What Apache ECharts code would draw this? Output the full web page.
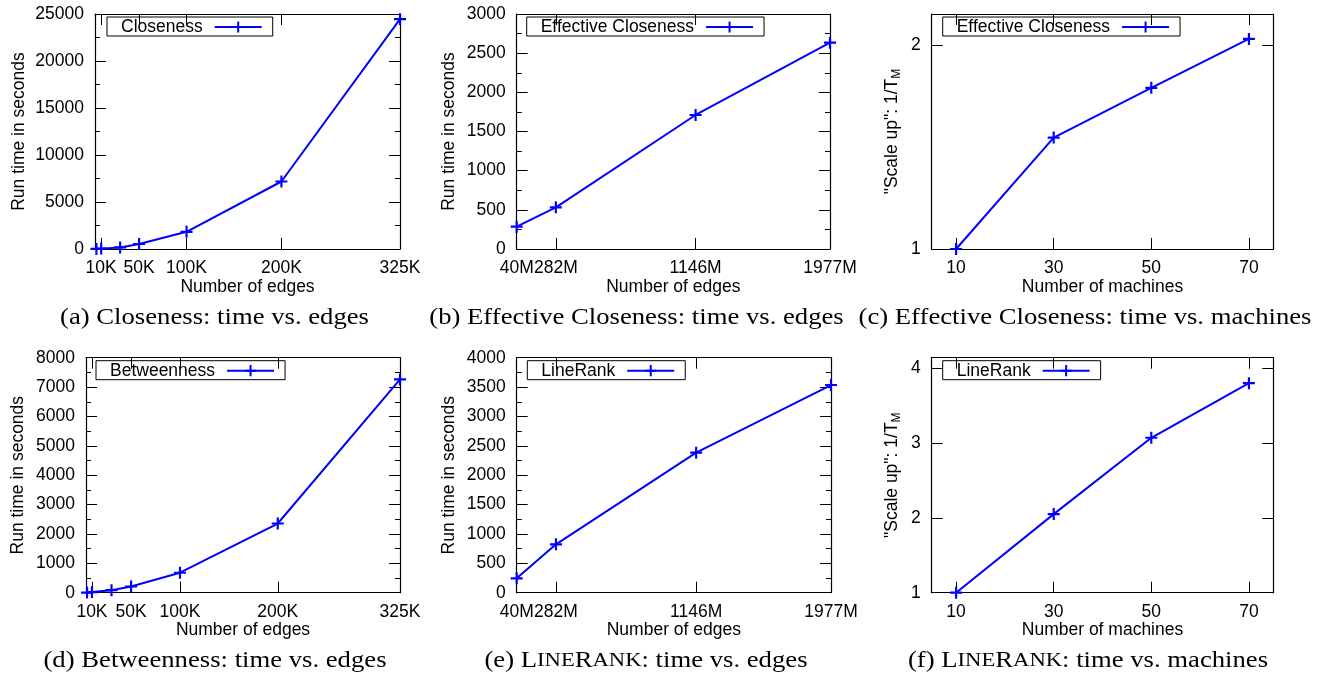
<!DOCTYPE html>
<html>
<head>
<meta charset="utf-8">
<title>Closeness, Betweenness and LineRank scalability</title>
<script src="https://cdn.jsdelivr.net/npm/echarts@6/dist/echarts.min.js"></script>
<style>
  html, body { margin: 0; padding: 0; background: #fff; }
  #chart { width: 1330px; height: 680px; }
</style>
</head>
<body>
<div id="chart"></div>
<script>
  // x values
  const edgesK = [5000, 10000, 30000, 50000, 100000, 200000, 325000]
  const edgesM = [40, 282, 1146, 1977]
  const machines = [10, 30, 50, 70]

  // run time in seconds / scale up
  const closenessTime = [10, 40, 170, 530, 1830, 7180, 24450]
  const betweennessTime = [5, 20, 85, 210, 680, 2355, 7260]
  const effClosenessTime = [285, 532, 1711, 2634]
  const lineRankTime = [244, 823, 2383, 3535]
  const effClosenessScaleUp = [1.0, 1.546, 1.79, 2.03]
  const lineRankScaleUp = [1.0, 2.05, 3.07, 3.80]

  // tick labels
  const edgesKTicks = [10000, 50000, 100000, 200000, 325000]
  const edgesKLabels = ['10K', '50K', '100K', '200K', '325K']
  const edgesMTicks = [40, 282, 1146, 1977]
  const edgesMLabels = ['40M', '282M', '1146M', '1977M']
  const machineTicks = [10, 30, 50, 70]
  const machineLabels = ['10', '30', '50', '70']
  const scaleUpTicksC = [1, 2]
  const scaleUpTicksF = [1, 2, 3, 4]

  const captions = [
    '(a) Closeness: time vs. edges',
    '(b) Effective Closeness: time vs. edges',
    '(c) Effective Closeness: time vs. machines',
    '(d) Betweenness: time vs. edges',
    '(e) L{sc|INE}R{sc|ANK}: time vs. edges',
    '(f) L{sc|INE}R{sc|ANK}: time vs. machines'
  ]

  const BLUE = '#0000ff'
  const SANS = '"Liberation Sans", Arial, sans-serif'
  const SERIF = '"Liberation Serif", "Times New Roman", serif'
  const PLUS = 'path://M4.1,0H5.9V4.1H10V5.9H5.9V10H4.1V5.9H0V4.1H4.1Z'
  const scaleUpName = '{a|"Scale up": 1/T}{sub|M}'
  const scaleUpRich = {
    a: { fontFamily: SANS, fontSize: 17.5, color: '#000', lineHeight: 20, verticalAlign: 'top' },
    sub: { fontFamily: SANS, fontSize: 12, color: '#000', lineHeight: 14, verticalAlign: 'bottom', padding: [9, 0, 0, 0] }
  }

  const panels = [
    { name: 'Closeness', x: edgesK, y: closenessTime, xMin: 3500, xMax: 325000, xTicks: edgesKTicks, xLabels: edgesKLabels,
      xName: 'Number of edges', yMin: 0, yMax: 25000, yInterval: 5000, yName: 'Run time in seconds',
      left: 95, top: 14, width: 305, nameGap: 67, legendLeft: 107, capX: 214.5, capY: 318 },
    { name: 'Effective Closeness', x: edgesM, y: effClosenessTime, xMin: 40, xMax: 1977, xTicks: edgesMTicks, xLabels: edgesMLabels,
      xName: 'Number of edges', yMin: 0, yMax: 3000, yInterval: 500, yName: 'Run time in seconds',
      left: 516.7, top: 14, width: 313.3, nameGap: 58.5, legendLeft: 526.7, capX: 636.5, capY: 318 },
    { name: 'Effective Closeness', x: machines, y: effClosenessScaleUp, xMin: 5, xMax: 75, xTicks: machineTicks, xLabels: machineLabels,
      xName: 'Number of machines', yMin: 1, yMax: 2.152, yTicks: scaleUpTicksC, yName: scaleUpName,
      left: 931.7, top: 14, width: 341.6, nameGap: 29, legendLeft: 942.7, capX: 1085, capY: 318 },
    { name: 'Betweenness', x: edgesK, y: betweennessTime, xMin: 3900, xMax: 325000, xTicks: edgesKTicks, xLabels: edgesKLabels,
      xName: 'Number of edges', yMin: 0, yMax: 8000, yInterval: 1000, yName: 'Run time in seconds',
      left: 86, top: 357.7, width: 314, nameGap: 59, legendLeft: 96, capX: 215, capY: 661 },
    { name: 'LineRank', x: edgesM, y: lineRankTime, xMin: 40, xMax: 1977, xTicks: edgesMTicks, xLabels: edgesMLabels,
      xName: 'Number of edges', yMin: 0, yMax: 4000, yInterval: 500, yName: 'Run time in seconds',
      left: 516.7, top: 357.7, width: 314.3, nameGap: 58.5, legendLeft: 527.3, capX: 646, capY: 661 },
    { name: 'LineRank', x: machines, y: lineRankScaleUp, xMin: 5, xMax: 75, xTicks: machineTicks, xLabels: machineLabels,
      xName: 'Number of machines', yMin: 1, yMax: 4.14, yTicks: scaleUpTicksF, yName: scaleUpName,
      left: 931.7, top: 357.7, width: 341.6, nameGap: 29, legendLeft: 942.7, capX: 1088, capY: 661 }
  ]

  const textStyle = { fontFamily: SANS, fontSize: 17.5, color: '#000' }
  const lineStyle = { color: '#000', width: 1.2 }

  function xAxis(p, i, top) {
    return {
      type: 'value', gridIndex: i, position: top ? 'top' : 'bottom',
      min: p.xMin, max: p.xMax,
      name: top ? '' : p.xName, nameLocation: 'middle', nameGap: 28,
      nameTextStyle: textStyle,
      axisLine: { show: true, onZero: false, lineStyle },
      axisTick: { show: true, inside: true, length: 11, customValues: p.xTicks, lineStyle: { color: '#000', width: 1 } },
      axisLabel: {
        show: !top, customValues: p.xTicks, margin: 10, ...textStyle,
        formatter: v => p.xLabels[p.xTicks.indexOf(v)]
      },
      splitLine: { show: false }
    }
  }

  function yAxis(p, i, right) {
    const ax = {
      type: 'value', gridIndex: i, position: right ? 'right' : 'left',
      min: p.yMin, max: p.yMax,
      name: right ? '' : p.yName, nameLocation: 'middle', nameRotate: 90, nameGap: p.nameGap,
      nameTextStyle: { ...textStyle, rich: scaleUpRich },
      axisLine: { show: true, onZero: false, lineStyle },
      axisTick: { show: true, inside: true, length: 11, lineStyle: { color: '#000', width: 1 } },
      axisLabel: { show: !right, margin: 11, ...textStyle, formatter: v => String(v) },
      splitLine: { show: false }
    }
    if (p.yTicks) {
      ax.axisTick.customValues = p.yTicks
      ax.axisLabel.customValues = p.yTicks
    } else {
      ax.interval = p.yInterval
      ax.minorTick = { show: true, splitNumber: 2, length: 5, lineStyle: { color: '#000', width: 1 } }
    }
    return ax
  }

  const option = {
    animation: false,
    grid: [], xAxis: [], yAxis: [], legend: [], series: [], graphic: []
  }

  panels.forEach((p, i) => {
    option.grid.push({ left: p.left, top: p.top, width: p.width, height: 235, containLabel: false, outerBoundsMode: 'none' })
    option.xAxis.push(xAxis(p, i, false), xAxis(p, i, true))
    option.yAxis.push(yAxis(p, i, false), yAxis(p, i, true))
    option.series.push({
      type: 'line', name: p.name,
      xAxisIndex: 2 * i, yAxisIndex: 2 * i,
      data: p.x.map((x, j) => [x, p.y[j]]),
      symbol: PLUS, symbolSize: 12, symbolKeepAspect: true,
      lineStyle: { color: BLUE, width: 2 },
      itemStyle: { color: BLUE, borderWidth: 0 },
      clip: false, silent: true, z: 5
    })
    option.legend.push({
      data: [p.name], left: p.legendLeft, top: p.top + 3,
      align: 'right', itemWidth: 47, itemHeight: 14,
      padding: [1, 10, 0, 14],
      borderColor: '#000', borderWidth: 1,
      selectedMode: false,
      textStyle: { ...textStyle, lineHeight: 17, padding: [0, 7, 0, 0] }
    })
    option.graphic.push({
      type: 'text', x: p.capX, y: p.capY, scaleX: 1.16,
      style: {
        text: captions[i], align: 'center', verticalAlign: 'middle',
        fontFamily: SERIF, fontSize: 23, fill: '#000',
        rich: { sc: { fontFamily: SERIF, fontSize: 19.5, fill: '#000', color: '#000' } }
      }
    })
  })

  const chart = echarts.init(document.getElementById('chart'))
  chart.setOption(option)
</script>
</body>
</html>
